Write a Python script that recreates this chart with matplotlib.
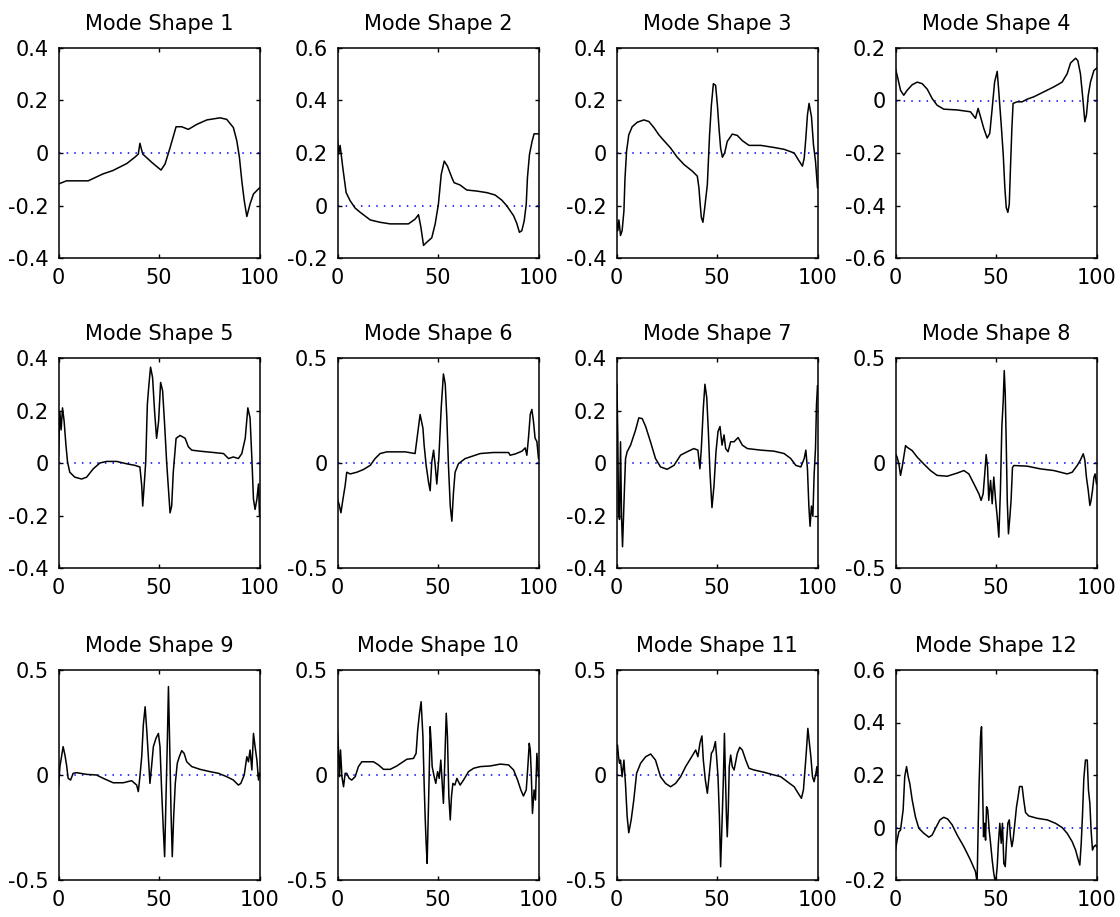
import matplotlib
matplotlib.use("Agg")
from matplotlib import pyplot as plt
from matplotlib.ticker import FuncFormatter
import numpy as np

# mode shape samples (position along structure, amplitude)
m1_x = [0, 4, 14.8, 22, 27, 34, 38, 39.7, 40.5, 41.9, 46.3, 51, 53, 55.5, 58.5, 61.3, 64.6, 68.8,
        73.8, 80.4, 83.7, 87, 88.7, 90, 91.2, 92.4, 93.7, 95.3, 97, 100]
m1_y = [-0.118, -0.106, -0.106, -0.08, -0.067, -0.04, -0.016, -0.004, 0.037, -0.004, -0.035, -0.065,
        -0.042, 0.02, 0.1, 0.1, 0.09, 0.109, 0.126, 0.134, 0.128, 0.097, 0.047, -0.016, -0.106,
        -0.181, -0.242, -0.194, -0.156, -0.133]

m2_x = [0, 0.6, 1.3, 2.65, 4.3, 6.3, 8.8, 11.3, 16.3, 21.2, 26.2, 35.3, 38.6, 40.3, 41.5, 42.8,
        44.4, 46.9, 48.6, 50.2, 51.6, 53.1, 54.7, 56.9, 58, 61, 64.3, 69.3, 74.3, 78.4, 81.8, 84.2,
        87.6, 89.2, 90.5, 91.7, 92.9, 93.9, 94.5, 95.5, 96.8, 97.8, 100]
m2_y = [0.246, 0.196, 0.229, 0.143, 0.049, 0.018, -0.01, -0.026, -0.055, -0.064, -0.07, -0.07,
        -0.052, -0.035, -0.083, -0.152, -0.14, -0.123, -0.07, 0.005, 0.118, 0.169, 0.15, 0.106,
        0.087, 0.078, 0.059, 0.055, 0.049, 0.04, 0.02, -0.001, -0.039, -0.068, -0.102, -0.096,
        -0.058, 0.005, 0.106, 0.194, 0.244, 0.273, 0.273]

m3_x = [0, 0.66, 1.2, 2, 2.8, 3.7, 4.2, 5, 6.1, 7.8, 10.3, 13.6, 16.1, 18.6, 21.1, 23.6, 26.9,
        30.2, 33.6, 37.7, 40.2, 41, 41.5, 42.2, 43, 43.9, 45.2, 46.3, 47.2, 48.2, 49.3, 50.2, 51,
        51.8, 52.7, 53.8, 55.1, 57.6, 60.1, 62.6, 65.9, 71.8, 78.4, 83.4, 88.4, 90.4, 92.5, 93.4,
        94.2, 95, 95.8, 97, 98, 99, 100]
m3_y = [-0.258, -0.296, -0.255, -0.314, -0.296, -0.22, -0.1, 0.006, 0.069, 0.1, 0.117, 0.126,
        0.12, 0.097, 0.069, 0.047, 0.019, -0.016, -0.044, -0.069, -0.088, -0.132, -0.182, -0.245,
        -0.264, -0.208, -0.12, 0.069, 0.182, 0.264, 0.258, 0.182, 0.094, 0.019, -0.016, 0.0, 0.044,
        0.072, 0.067, 0.047, 0.029, 0.029, 0.021, 0.014, 0.0, -0.025, -0.05, -0.019, 0.057, 0.145,
        0.189, 0.138, 0.031, -0.031, -0.132]

m4_x = [0, 1.2, 2.5, 4.1, 5.8, 8.3, 10.8, 13.3, 15.8, 18.2, 20.7, 24, 30.7, 37.3, 39.8, 41.1,
        42.3, 43.9, 45.6, 46.9, 48.1, 49.3, 50.6, 51.4, 52.6, 53.6, 54.4, 55.1, 55.9, 56.6, 57.2,
        57.9, 58.5, 60.5, 63, 65.5, 68.8, 73.8, 78.8, 82.9, 85.4, 87.1, 89.6, 90.7, 92, 93.2, 94.2,
        95, 95.9, 97, 98.7, 100]
m4_y = [0.121, 0.083, 0.039, 0.02, 0.039, 0.06, 0.07, 0.064, 0.043, 0.008, -0.018, -0.033,
        -0.036, -0.043, -0.068, -0.03, -0.062, -0.106, -0.143, -0.125, -0.03, 0.07, 0.111, 0.033,
        -0.093, -0.206, -0.332, -0.408, -0.426, -0.395, -0.257, -0.106, -0.011, -0.005, -0.005,
        0.005, 0.014, 0.033, 0.052, 0.07, 0.102, 0.143, 0.161, 0.152, 0.102, 0.008, -0.081, -0.055,
        0.02, 0.07, 0.114, 0.123]

m5_x = [0, 0.66, 1.3, 2, 2.8, 3.7, 4.5, 5.6, 8.1, 11.5, 14, 17.3, 20.6, 23.9, 28.9, 33.9, 38,
        40.5, 41.4, 41.9, 42.5, 43.4, 44.2, 45, 45.8, 46.8, 47.8, 48.8, 49.8, 50.8, 51.8, 52.8,
        53.8, 54.7, 55.5, 56.3, 57.1, 58.5, 60.5, 63, 64.6, 66.3, 70.4, 77.1, 82.1, 84.6, 87, 89.5,
        91.2, 92.9, 94.2, 95.3, 96.2, 97, 97.8, 98.7, 99.5, 100]
m5_y = [0.03, 0.197, 0.126, 0.21, 0.159, 0.068, 0.004, -0.035, -0.054, -0.061, -0.054, -0.022,
        0.0, 0.006, 0.006, -0.003, -0.009, -0.015, -0.086, -0.164, -0.099, 0.004, 0.223, 0.3,
        0.365, 0.326, 0.197, 0.094, 0.159, 0.307, 0.275, 0.146, 0.004, -0.099, -0.19, -0.164,
        -0.035, 0.094, 0.105, 0.094, 0.062, 0.049, 0.045, 0.04, 0.036, 0.017, 0.023, 0.017, 0.036,
        0.094, 0.21, 0.172, 0.017, -0.138, -0.177, -0.138, -0.08, -0.2]

m6_x = [0, 0.8, 1.7, 2.7, 3.8, 4.6, 6.3, 9.6, 12.9, 16.3, 18.7, 21.2, 24.5, 33.7, 38.6, 39.8,
        41.1, 42.5, 43.1, 44.1, 45.3, 46.1, 46.9, 47.8, 48.6, 49.4, 50.4, 51.6, 52.7, 53.6, 54.4,
        55.2, 56.1, 56.9, 57.7, 58.5, 60.2, 63.5, 71, 77.6, 82.6, 85.1, 85.9, 88.4, 91.7, 93.4,
        94.2, 95, 95.9, 96.7, 97.5, 98.3, 99.2, 100]
m6_y = [-0.173, -0.197, -0.237, -0.173, -0.108, -0.044, -0.052, -0.044, -0.031, -0.011, 0.021,
        0.045, 0.053, 0.053, 0.045, 0.134, 0.231, 0.166, 0.085, -0.011, -0.092, -0.132, 0.005,
        0.061, -0.011, -0.1, 0.021, 0.263, 0.424, 0.376, 0.215, -0.011, -0.205, -0.277, -0.14,
        -0.044, -0.003, 0.021, 0.045, 0.05, 0.05, 0.05, 0.037, 0.043, 0.056, 0.072, 0.037, 0.118,
        0.231, 0.255, 0.198, 0.118, 0.102, 0.021]

m7_x = [0.2, 0.66, 1, 1.5, 2, 2.5, 3, 3.5, 4, 4.5, 5.3, 7, 9.5, 11.1, 12.8, 14.5, 16.9, 19.4,
        21.9, 25.2, 28.6, 31.9, 35.2, 38.5, 40.5, 41.5, 42.2, 43.2, 44, 44.9, 45.7, 46.5, 47.5,
        48.5, 49.5, 50.5, 51.5, 52.5, 53.5, 54.3, 55.5, 56.8, 58.5, 60.5, 62.6, 65.1, 71.8, 78.4,
        83.4, 86.7, 89.2, 91.7, 93.4, 94.2, 95, 95.7, 96.3, 97, 97.7, 98.3, 99, 99.5, 100]
m7_y = [0.3, 0.094, -0.19, -0.215, 0.081, -0.203, -0.319, -0.203, -0.087, 0.017, 0.043, 0.068,
        0.126, 0.172, 0.169, 0.139, 0.081, 0.017, -0.015, -0.024, -0.009, 0.03, 0.043, 0.055,
        0.049, -0.022, 0.055, 0.21, 0.3, 0.249, 0.12, -0.035, -0.17, -0.087, 0.043, 0.12, 0.139,
        0.068, 0.107, 0.055, 0.043, 0.081, 0.081, 0.097, 0.068, 0.055, 0.049, 0.045, 0.036, 0.017,
        -0.009, -0.015, 0.017, 0.049, -0.022, -0.164, -0.241, -0.164, -0.203, -0.048, 0.055,
        0.223, 0.294]

m8_x = [0, 0.8, 1.7, 2.5, 3.3, 4.1, 5, 5.8, 8.3, 10.8, 14.1, 17.4, 20.7, 25.7, 30.7, 34, 36.5,
        39, 41.5, 42.6, 43.6, 44.4, 45.1, 45.8, 46.4, 47.3, 48.1, 48.9, 49.8, 50.6, 51.4, 52.2,
        52.9, 53.6, 54.1, 54.6, 55.1, 55.6, 56.2, 56.9, 57.5, 58.2, 58.9, 65.5, 72.1, 78.8, 85.4,
        87.9, 90.4, 92, 93.4, 94.2, 95, 95.9, 96.7, 97.3, 98, 98.7, 99.3, 100]
m8_y = [0.044, 0.028, -0.005, -0.059, -0.02, 0.028, 0.083, 0.075, 0.059, 0.028, -0.005, -0.036,
        -0.059, -0.063, -0.048, -0.036, -0.052, -0.099, -0.147, -0.178, -0.147, -0.052, 0.04,
        -0.02, -0.178, -0.083, -0.194, -0.067, -0.178, -0.257, -0.353, -0.131, 0.17, 0.297, 0.44,
        0.329, 0.09, -0.178, -0.337, -0.257, -0.178, -0.021, -0.012, -0.015, -0.028, -0.036,
        -0.052, -0.044, -0.012, 0.014, 0.044, 0.014, -0.069, -0.131, -0.202, -0.178, -0.131,
        -0.069, -0.052, -0.099]

m9_x = [0, 0.7, 1.5, 2.3, 3.2, 4, 4.8, 6, 7.3, 9, 14, 18.9, 22.3, 27.2, 32.2, 36.4, 38.9, 39.7,
        40.5, 41.4, 42.2, 43.1, 43.9, 44.7, 45.5, 46.3, 47.2, 48.5, 49.7, 50.5, 51.3, 52.2, 52.8,
        53.5, 54.2, 54.7, 55.3, 56, 56.6, 57.3, 58.1, 59.1, 60.1, 61.3, 62.5, 63.8, 66.3, 70.4,
        75.4, 79.6, 83.7, 87, 89.5, 90.7, 92.4, 93.7, 94.5, 95.3, 96.2, 97, 97.8, 98.7, 99.5, 100]
m9_y = [-0.056, 0.04, 0.087, 0.135, 0.095, 0.048, -0.016, -0.024, 0.008, 0.011, 0.003, 0.0,
        -0.016, -0.037, -0.037, -0.027, -0.048, -0.079, -0.008, 0.087, 0.238, 0.325, 0.214, 0.087,
        -0.04, 0.04, 0.135, 0.175, 0.198, 0.135, -0.071, -0.27, -0.389, -0.103, 0.183, 0.421,
        0.151, -0.183, -0.389, -0.198, -0.04, 0.056, 0.087, 0.116, 0.103, 0.063, 0.04, 0.027,
        0.016, 0.008, -0.008, -0.024, -0.048, -0.04, 0.0, 0.087, 0.063, 0.119, 0.024, 0.198, 0.135,
        0.071, -0.024, 0.008]

m10_x = [0, 0.5, 1, 1.5, 2.2, 3, 3.8, 4.6, 5.8, 7.1, 8.8, 10.4, 12.1, 17.9, 20.4, 22.9, 26.2,
         29.5, 32, 34.5, 37.8, 39.1, 39.9, 40.8, 41.6, 42.5, 43.1, 43.6, 44.1, 44.6, 45.1, 45.6,
         46.1, 46.6, 47.1, 48.1, 48.9, 49.8, 50.6, 51.4, 52.2, 52.7, 53.4, 54.1, 54.7, 55.4, 56.1,
         56.7, 57.4, 58.4, 59.4, 61, 62.7, 65.2, 67.7, 71, 76, 81, 85.1, 87.6, 89.6, 91.2, 92.5,
         93.9, 94.7, 95.4, 95.9, 96.4, 97, 97.8, 98.5, 99.2, 100]
m10_y = [0.214, 0.119, -0.008, 0.119, -0.008, -0.056, 0.008, 0.008, -0.016, -0.024, -0.008,
         0.04, 0.063, 0.063, 0.048, 0.027, 0.027, 0.043, 0.059, 0.075, 0.079, 0.103, 0.214, 0.294,
         0.349, 0.183, -0.04, -0.198, -0.325, -0.421, -0.214, -0.008, 0.23, 0.151, 0.04, -0.008,
         -0.04, 0.016, -0.016, 0.071, -0.056, -0.135, 0.071, 0.294, 0.183, -0.103, -0.214, -0.103,
         -0.04, -0.048, -0.016, -0.048, -0.024, 0.016, 0.032, 0.04, 0.043, 0.052, 0.048, 0.024,
         -0.024, -0.071, -0.1, -0.071, 0.04, 0.151, 0.119, 0.008, -0.183, -0.071, -0.119, 0.103,
         -0.008]

m11_x = [0, 0.5, 1, 1.5, 2, 2.8, 3.7, 4.5, 5.3, 6.1, 7.3, 8.6, 10, 12, 14.5, 17, 19.4, 21.9,
         24.4, 26.9, 29.4, 31.9, 34.4, 36.9, 39.4, 40.5, 41.5, 42.5, 43.2, 44.2, 45.2, 46.2, 47.2,
         48.2, 49.2, 49.8, 50.5, 51.2, 51.8, 52.5, 53.2, 53.7, 54.2, 54.7, 55.1, 55.6, 56.1, 56.8,
         57.6, 58.5, 59.3, 60.1, 61.3, 62.6, 64.3, 65.9, 68.4, 73.4, 78.4, 81.7, 85, 88.4, 90.4,
         92, 93, 93.9, 94.5, 95.2, 95.8, 96.7, 97.5, 98.3, 99.2, 99.7, 100]
m11_y = [0.103, 0.143, 0.087, 0.056, 0.071, -0.008, 0.071, -0.048, -0.198, -0.275, -0.214,
         -0.119, 0.008, 0.056, 0.087, 0.1, 0.071, -0.008, -0.04, -0.056, -0.04, -0.008, 0.04,
         0.079, 0.119, 0.087, 0.151, 0.186, 0.071, -0.024, -0.087, 0.008, 0.103, 0.119, 0.159,
         0.087, -0.008, -0.198, -0.437, -0.23, -0.008, 0.198, -0.008, -0.198, -0.294, -0.167,
         0.04, 0.095, 0.04, 0.024, 0.063, 0.103, 0.132, 0.119, 0.071, 0.032, 0.024, 0.013, 0.0,
         -0.008, -0.032, -0.056, -0.087, -0.111, -0.071, 0.04, 0.119, 0.222, 0.167, 0.087, -0.008,
         -0.032, 0.008, 0.04, 0.008]

m12_x = [0, 0.8, 1.7, 2.5, 3.8, 4.6, 5.5, 6.3, 7.1, 8.3, 9.9, 11.6, 14.1, 16.6, 18.2, 19.9,
         22.1, 24, 26, 28.2, 30.7, 34, 37.3, 39.8, 40.6, 41.1, 41.6, 42.3, 42.8, 43.3, 43.8, 44.3,
         44.8, 45.3, 45.9, 46.6, 47.3, 48.1, 48.9, 49.8, 50.6, 51.2, 51.9, 52.6, 53.2, 53.9, 54.6,
         55.2, 55.9, 56.6, 57.2, 57.9, 58.5, 59.2, 60.2, 61, 61.7, 63, 63.8, 64.7, 66.3, 70.5,
         75.5, 79.6, 82.9, 85.4, 87.9, 89.6, 90.7, 91.7, 92.4, 93, 93.7, 94.5, 95.4, 96, 96.7,
         97.3, 98, 98.7, 99.5, 100]
m12_y = [-0.086, -0.048, -0.016, -0.01, 0.067, 0.194, 0.232, 0.194, 0.168, 0.105, 0.041, -0.003,
         -0.022, -0.037, -0.029, -0.003, 0.029, 0.039, 0.032, 0.01, -0.029, -0.073, -0.124,
         -0.168, -0.21, -0.01, 0.168, 0.346, 0.384, 0.168, -0.035, 0.016, -0.048, 0.079, 0.067,
         -0.01, -0.06, -0.124, -0.175, -0.215, -0.149, -0.06, 0.016, -0.06, 0.016, -0.137, -0.149,
         -0.06, 0.016, 0.029, -0.035, -0.073, -0.048, 0.003, 0.079, 0.117, 0.156, 0.156, 0.105,
         0.057, 0.044, 0.035, 0.029, 0.016, 0.0, -0.022, -0.054, -0.086, -0.117, -0.143, -0.06,
         0.041, 0.187, 0.257, 0.257, 0.143, 0.092, -0.01, -0.086, -0.073, -0.067, -0.073]

modes = [(m1_x, m1_y), (m2_x, m2_y), (m3_x, m3_y), (m4_x, m4_y),
         (m5_x, m5_y), (m6_x, m6_y), (m7_x, m7_y), (m8_x, m8_y),
         (m9_x, m9_y), (m10_x, m10_y), (m11_x, m11_y), (m12_x, m12_y)]

# y ranges and tick steps of each panel
y_lims = [(-0.4, 0.4), (-0.2, 0.6), (-0.4, 0.4), (-0.6, 0.2),
          (-0.4, 0.4), (-0.5, 0.5), (-0.4, 0.4), (-0.5, 0.5),
          (-0.5, 0.5), (-0.5, 0.5), (-0.5, 0.5), (-0.2, 0.6)]
y_steps = [0.2, 0.2, 0.2, 0.2, 0.2, 0.5, 0.2, 0.5, 0.5, 0.5, 0.5, 0.2]

plt.rcParams['axes.unicode_minus'] = False
plt.rcParams['font.family'] = 'DejaVu Sans'

W, H = 1120, 917
fig = plt.figure(figsize=(W / 100, H / 100), dpi=100)

col_left = [58.5, 337.5, 616.5, 895.5]
row_bottom = [258, 568, 880]
ax_w, ax_h = 201, 210

fmt = FuncFormatter(lambda v, p: '%g' % round(v, 3))

for i, (xs, ys) in enumerate(modes):
    r, c = divmod(i, 4)
    ax = fig.add_axes([col_left[c] / W, (H - row_bottom[r]) / H, ax_w / W, ax_h / H])
    ax.plot([0, 100], [0, 0], color='#0000ff', linestyle=(0, (1, 4)), linewidth=1.1)
    ax.plot(xs, ys, color='black', linewidth=1.1)
    lo, hi = y_lims[i]
    ax.set_xlim(0, 100)
    ax.set_ylim(lo, hi)
    ax.set_xticks([0, 50, 100])
    ax.set_yticks(np.arange(lo, hi + 1e-9, y_steps[i]))
    ax.xaxis.set_major_formatter(fmt)
    ax.yaxis.set_major_formatter(fmt)
    ax.tick_params(direction='in', length=3, width=1, labelsize=15, pad=7,
                   top=True, right=True)
    for s in ax.spines.values():
        s.set_linewidth(1.1)
    ax.set_title('Mode Shape %d' % (i + 1), fontsize=15, pad=13)

fig.savefig('out.png', dpi=100)
